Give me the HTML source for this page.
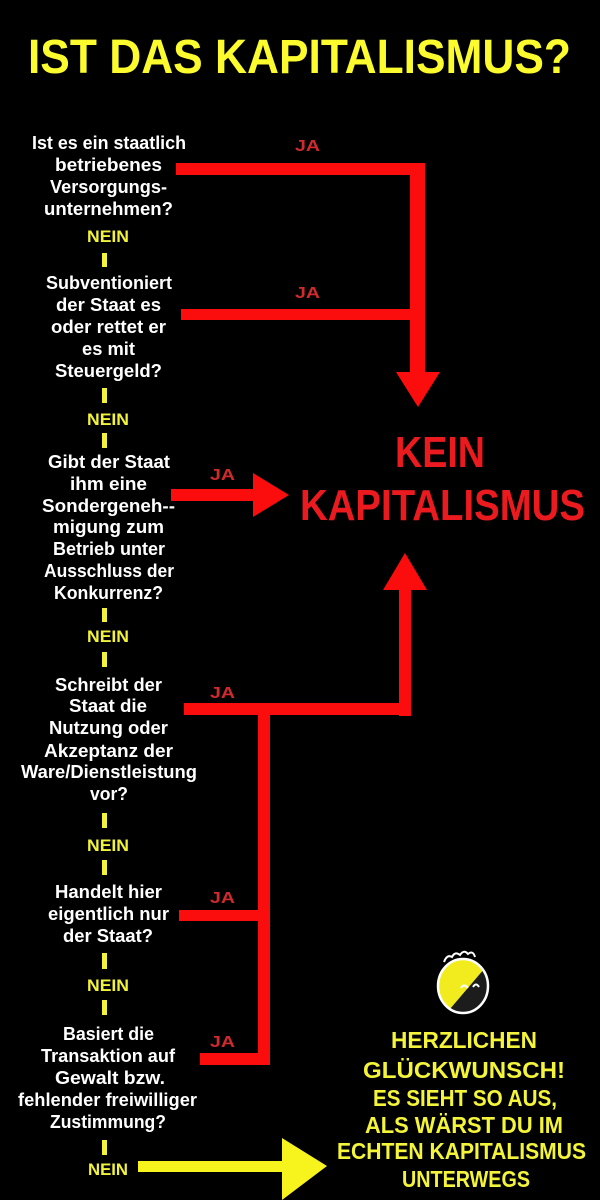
<!DOCTYPE html>
<html>
<head>
<meta charset="utf-8">
<style>
html,body{margin:0;padding:0;background:#000;}
svg{display:block;}
text{font-family:"Liberation Sans",sans-serif;font-weight:bold;}
.w{fill:#ffffff;font-size:18px;}
.n{fill:#f2f23c;font-size:17px;}
.ja{fill:#cf2a2e;font-size:16px;}
.r{fill:#ea1a1f;font-size:44px;}
.y{fill:#f4f43a;font-size:23px;}
</style>
</head>
<body>
<svg width="600" height="1200" viewBox="0 0 600 1200" xmlns="http://www.w3.org/2000/svg">
<rect width="600" height="1200" fill="#000"/>

<!-- Title -->
<text x="28" y="73" style="fill:#fbfb2e;font-size:48px" textLength="543" lengthAdjust="spacingAndGlyphs">IST DAS KAPITALISMUS?</text>

<!-- Question 1 -->
<text class="w" x="32" y="149" textLength="154" lengthAdjust="spacingAndGlyphs">Ist es ein staatlich</text>
<text class="w" x="55" y="171" textLength="107" lengthAdjust="spacingAndGlyphs">betriebenes</text>
<text class="w" x="50" y="193" textLength="117" lengthAdjust="spacingAndGlyphs">Versorgungs-</text>
<text class="w" x="44" y="215" textLength="129" lengthAdjust="spacingAndGlyphs">unternehmen?</text>
<text class="n" x="87" y="242" textLength="42" lengthAdjust="spacingAndGlyphs">NEIN</text>
<rect x="102" y="253" width="5" height="14" fill="#f2f23c"/>

<!-- Question 2 -->
<text class="w" x="46" y="289" textLength="126" lengthAdjust="spacingAndGlyphs">Subventioniert</text>
<text class="w" x="56" y="311" textLength="105" lengthAdjust="spacingAndGlyphs">der Staat es</text>
<text class="w" x="51" y="333" textLength="115" lengthAdjust="spacingAndGlyphs">oder rettet er</text>
<text class="w" x="82" y="355" textLength="53" lengthAdjust="spacingAndGlyphs">es mit</text>
<text class="w" x="55" y="377" textLength="107" lengthAdjust="spacingAndGlyphs">Steuergeld?</text>
<rect x="102" y="388" width="5" height="15" fill="#f2f23c"/>
<text class="n" x="87" y="425" textLength="42" lengthAdjust="spacingAndGlyphs">NEIN</text>
<rect x="102" y="433" width="5" height="15" fill="#f2f23c"/>

<!-- Question 3 -->
<text class="w" x="48" y="468" textLength="122" lengthAdjust="spacingAndGlyphs">Gibt der Staat</text>
<text class="w" x="70" y="490" textLength="77" lengthAdjust="spacingAndGlyphs">ihm eine</text>
<text class="w" x="42" y="512" textLength="133" lengthAdjust="spacingAndGlyphs">Sondergeneh--</text>
<text class="w" x="53" y="533" textLength="111" lengthAdjust="spacingAndGlyphs">migung zum</text>
<text class="w" x="53" y="555" textLength="112" lengthAdjust="spacingAndGlyphs">Betrieb unter</text>
<text class="w" x="44" y="577" textLength="130" lengthAdjust="spacingAndGlyphs">Ausschluss der</text>
<text class="w" x="54" y="599" textLength="109" lengthAdjust="spacingAndGlyphs">Konkurrenz?</text>
<rect x="102" y="608" width="5" height="14" fill="#f2f23c"/>
<text class="n" x="87" y="642" textLength="42" lengthAdjust="spacingAndGlyphs">NEIN</text>
<rect x="102" y="652" width="5" height="15" fill="#f2f23c"/>

<!-- Question 4 -->
<text class="w" x="55" y="691" textLength="107" lengthAdjust="spacingAndGlyphs">Schreibt der</text>
<text class="w" x="69" y="712" textLength="78" lengthAdjust="spacingAndGlyphs">Staat die</text>
<text class="w" x="49" y="734" textLength="119" lengthAdjust="spacingAndGlyphs">Nutzung oder</text>
<text class="w" x="44" y="757" textLength="129" lengthAdjust="spacingAndGlyphs">Akzeptanz der</text>
<text class="w" x="21" y="778" textLength="176" lengthAdjust="spacingAndGlyphs">Ware/Dienstleistung</text>
<text class="w" x="90" y="800" textLength="38" lengthAdjust="spacingAndGlyphs">vor?</text>
<rect x="102" y="813" width="5" height="15" fill="#f2f23c"/>
<text class="n" x="87" y="851" textLength="42" lengthAdjust="spacingAndGlyphs">NEIN</text>
<rect x="102" y="860" width="5" height="15" fill="#f2f23c"/>

<!-- Question 5 -->
<text class="w" x="55" y="898" textLength="107" lengthAdjust="spacingAndGlyphs">Handelt hier</text>
<text class="w" x="48" y="920" textLength="121" lengthAdjust="spacingAndGlyphs">eigentlich nur</text>
<text class="w" x="63" y="942" textLength="90" lengthAdjust="spacingAndGlyphs">der Staat?</text>
<rect x="102" y="953" width="5" height="16" fill="#f2f23c"/>
<text class="n" x="87" y="991" textLength="42" lengthAdjust="spacingAndGlyphs">NEIN</text>
<rect x="102" y="1000" width="5" height="15" fill="#f2f23c"/>

<!-- Question 6 -->
<text class="w" x="63" y="1040" textLength="91" lengthAdjust="spacingAndGlyphs">Basiert die</text>
<text class="w" x="41" y="1062" textLength="134" lengthAdjust="spacingAndGlyphs">Transaktion auf</text>
<text class="w" x="55" y="1084" textLength="110" lengthAdjust="spacingAndGlyphs">Gewalt bzw.</text>
<text class="w" x="18" y="1106" textLength="179" lengthAdjust="spacingAndGlyphs">fehlender freiwilliger</text>
<text class="w" x="50" y="1128" textLength="116" lengthAdjust="spacingAndGlyphs">Zustimmung?</text>
<rect x="102" y="1140" width="5" height="15" fill="#f2f23c"/>
<text class="n" x="88" y="1175" textLength="40" lengthAdjust="spacingAndGlyphs">NEIN</text>

<!-- JA labels -->
<text class="ja" x="295" y="151" textLength="25" lengthAdjust="spacingAndGlyphs">JA</text>
<text class="ja" x="295" y="298" textLength="25" lengthAdjust="spacingAndGlyphs">JA</text>
<text class="ja" x="210" y="480" textLength="25" lengthAdjust="spacingAndGlyphs">JA</text>
<text class="ja" x="210" y="698" textLength="25" lengthAdjust="spacingAndGlyphs">JA</text>
<text class="ja" x="210" y="903" textLength="25" lengthAdjust="spacingAndGlyphs">JA</text>
<text class="ja" x="210" y="1047" textLength="25" lengthAdjust="spacingAndGlyphs">JA</text>

<!-- Red connectors -->
<g fill="#fb0d0d">
  <rect x="176" y="163" width="249" height="12"/>
  <rect x="410" y="163" width="15" height="211"/>
  <polygon points="396,372 440,372 418,407"/>
  <rect x="181" y="309" width="231" height="11"/>
  <rect x="171" y="489" width="85" height="12"/>
  <polygon points="253,473 253,517 289,495"/>
  <polygon points="405,553 427,590 383,590"/>
  <rect x="399" y="588" width="12" height="128"/>
  <rect x="184" y="703" width="227" height="12"/>
  <rect x="258" y="703" width="12" height="362"/>
  <rect x="179" y="910" width="81" height="11"/>
  <rect x="200" y="1053" width="70" height="12"/>
</g>

<!-- KEIN KAPITALISMUS -->
<text class="r" x="395" y="467" textLength="90" lengthAdjust="spacingAndGlyphs">KEIN</text>
<text class="r" x="300" y="520" textLength="285" lengthAdjust="spacingAndGlyphs">KAPITALISMUS</text>

<!-- Yellow arrow -->
<g fill="#f7f31c">
  <rect x="138" y="1161" width="147" height="11"/>
  <polygon points="282,1138 282,1200 327,1166"/>
</g>

<!-- Ball icon -->
<defs>
  <clipPath id="ballclip"><ellipse cx="463" cy="986" rx="25" ry="27"/></clipPath>
</defs>
<ellipse cx="463" cy="986" rx="25" ry="27" fill="#f2ec1e"/>
<polygon points="444,1016 490,962 500,962 500,1020 440,1020" fill="#1c1c1c" clip-path="url(#ballclip)"/>
<ellipse cx="463" cy="986" rx="25" ry="27" fill="none" stroke="#ffffff" stroke-width="2.5"/>
<path d="M444,962 q3,-8 8,-5 q3,-6 8,-2 q4,-6 8,-1 q5,-4 7,3" fill="none" stroke="#ffffff" stroke-width="2"/>
<path d="M461,988 q3,-5 7,0" fill="none" stroke="#ffffff" stroke-width="2"/>
<path d="M473,987 q3,-5 6,0" fill="none" stroke="#ffffff" stroke-width="2"/>

<!-- Congratulation text -->
<text class="y" x="391" y="1048" textLength="146" lengthAdjust="spacingAndGlyphs">HERZLICHEN</text>
<text class="y" x="363" y="1078" textLength="202" lengthAdjust="spacingAndGlyphs">GLÜCKWUNSCH!</text>
<text class="y" x="373" y="1106" textLength="184" lengthAdjust="spacingAndGlyphs">ES SIEHT SO AUS,</text>
<text class="y" x="365" y="1133" textLength="198" lengthAdjust="spacingAndGlyphs">ALS WÄRST DU IM</text>
<text class="y" x="337" y="1159" textLength="249" lengthAdjust="spacingAndGlyphs">ECHTEN KAPITALISMUS</text>
<text class="y" x="402" y="1187" textLength="128" lengthAdjust="spacingAndGlyphs">UNTERWEGS</text>
</svg>
</body>
</html>
